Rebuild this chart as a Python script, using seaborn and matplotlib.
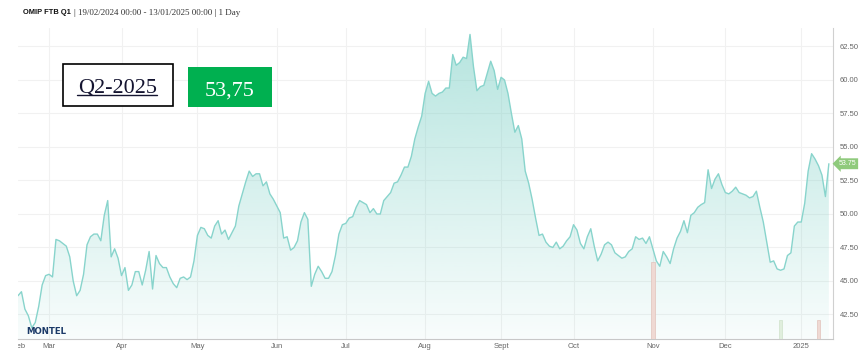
import numpy as np
import pandas as pd
import matplotlib
matplotlib.use('Agg')
import matplotlib.pyplot as plt
import matplotlib.transforms as mtransforms
from matplotlib.patches import Rectangle
from matplotlib.lines import Line2D
import seaborn as sns

# ---- data ----
start_date = '2024-02-19'
end_date = '2025-01-13'

# one settlement per business day, 19/02/2024 .. 13/01/2025
prices = [
    43.9, 44.2, 42.9, 42.4, 41.5, 41.9, 43.1, 44.7, 45.4, 45.5,
    45.3, 48.1, 48.0, 47.8, 47.6, 46.8, 45.0, 43.9, 44.3, 45.5,
    47.7, 48.3, 48.5, 48.5, 48.0, 49.9, 51.0, 46.8, 47.4, 46.7,
    45.4, 46.0, 44.3, 44.7, 45.7, 45.7, 44.7, 45.8, 47.2, 44.4,
    46.9, 46.3, 46.0, 46.0, 45.3, 44.8, 44.5, 45.2, 45.3, 45.1,
    45.3, 46.5, 48.4, 49.0, 48.9, 48.4, 48.2, 49.1, 49.5, 48.5,
    48.8, 48.1, 48.6, 49.1, 50.6, 51.5, 52.4, 53.2, 52.8, 53.0,
    53.0, 52.1, 52.4, 51.5, 51.1, 50.6, 50.1, 48.2, 48.3, 47.3,
    47.5, 48.0, 49.4, 50.1, 49.6, 44.6, 45.5, 46.1, 45.7, 45.2,
    45.2, 45.7, 46.9, 48.5, 49.2, 49.3, 49.7, 49.8, 50.5, 51.0,
    50.85, 50.7, 50.1, 50.4, 50.0, 50.0, 51.0, 51.3, 51.6, 52.3,
    52.4, 52.9, 53.5, 53.5, 54.3, 55.6, 56.5, 57.3, 59.0, 59.9,
    59.0, 58.8, 59.0, 59.1, 59.4, 59.4, 61.9, 61.1, 61.3, 61.7,
    61.6, 63.4, 61.0, 59.2, 59.5, 59.6, 60.5, 61.4, 60.7, 59.3,
    60.2, 60.0, 59.0, 57.5, 56.1, 56.6, 55.6, 53.2, 52.3, 51.1,
    49.7, 48.4, 48.5, 47.9, 47.6, 47.5, 47.9, 47.4, 47.6, 48.0,
    48.3, 49.2, 48.8, 47.8, 47.4, 48.3, 48.9, 47.6, 46.5, 47.0,
    47.7, 47.9, 47.7, 47.1, 46.9, 46.7, 46.8, 47.2, 47.4, 48.3,
    48.1, 48.2, 47.8, 48.3, 47.4, 46.5, 46.1, 47.2, 46.8, 46.3,
    47.4, 48.2, 48.7, 49.5, 48.6, 49.9, 50.1, 50.5, 50.7, 50.85,
    53.3, 51.9, 52.6, 53.0, 52.2, 51.6, 51.5, 51.7, 52.0, 51.6,
    51.5, 51.4, 51.2, 51.3, 51.7, 50.5, 49.4, 47.9, 46.4, 46.5,
    45.9, 45.8, 45.9, 46.9, 47.1, 49.1, 49.4, 49.4, 50.8, 53.2,
    54.5, 54.1, 53.6, 52.9, 51.3, 53.75,
]

month_starts = ['2024-03-01', '2024-04-01', '2024-05-01', '2024-06-01',
                '2024-07-01', '2024-08-01', '2024-09-01', '2024-10-01',
                '2024-11-01', '2024-12-01', '2025-01-01']
month_labels = ['Mar', 'Apr', 'May', 'Jun', 'Jul', 'Aug', 'Sept', 'Oct',
                'Nov', 'Dec', '2025']
y_ticks = [42.5, 45.0, 47.5, 50.0, 52.5, 55.0, 57.5, 60.0, 62.5]

vol_dates = ['2024-11-01', '2024-12-24', '2025-01-08']
vol_values = [20, 5, 5]
vol_side = ['down', 'up', 'down']

title_bold = 'OMIP FTB Q1'
title_rest = '| 19/02/2024 00:00 - 13/01/2025 00:00 | 1 Day'
contract = 'Q2-2025'
last_price_box = '53,75'
last_price = 53.75

# ---- prepare ----
W, H = 860, 357
dates = pd.bdate_range(start_date, end_date)
df = pd.DataFrame({'date': dates, 'price': prices})
d0 = np.datetime64(start_date, 'D')
df['pos'] = np.busday_count(d0, df['date'].values.astype('datetime64[D]'))
tick_pos = np.busday_count(d0, np.array(month_starts, dtype='datetime64[D]'))
vol_pos = np.busday_count(d0, np.array(vol_dates, dtype='datetime64[D]'))

sns.set_style('white')
plt.rcParams['font.family'] = ['Liberation Sans', 'DejaVu Sans']

fig = plt.figure(figsize=(W / 100, H / 100), dpi=100)
ax = fig.add_axes([18 / W, 18 / H, (833 - 18) / W, (339 - 28) / H])

ymin, ymax = 40.67, 63.88
xmin, xmax = 0, 236.2

# volume bars on a hidden twin axis (created first so ax keeps right ticks)
ax2 = ax.twinx()
bar_colors = {'down': '#efd9d3', 'up': '#e0eedd'}
edge_colors = {'down': '#e2c3bb', 'up': '#cfe2cb'}
ax2.bar(vol_pos, vol_values, width=1.1,
        color=[bar_colors[s] for s in vol_side],
        edgecolor=[edge_colors[s] for s in vol_side], lw=0.5, zorder=2)
ax2.set_ylim(0, 20 * 311 / 77)
ax2.set_yticks([])
for s in ax2.spines.values():
    s.set_visible(False)

# gradient area under the line
teal = np.array([127, 209, 199]) / 255
poly = ax.fill_between(df['pos'], df['price'], ymin, color='none', lw=0)
grad = np.zeros((256, 1, 4))
grad[:, 0, :3] = teal
grad[:, 0, 3] = np.linspace(0.05, 0.58, 256)
im = ax.imshow(grad, extent=[xmin, xmax, ymin, ymax], origin='lower',
               aspect='auto', zorder=1, interpolation='bilinear')
im.set_clip_path(poly.get_paths()[0], transform=ax.transData)

sns.lineplot(data=df, x='pos', y='price', ax=ax, color='#88d4cc', lw=1.0,
             zorder=3)

ax.set_xlim(xmin, xmax)
ax2.set_xlim(xmin, xmax)
ax.set_ylim(ymin, ymax)
ax.set_xlabel('')
ax.set_ylabel('')

ax.set_xticks(tick_pos)
ax.set_xticklabels(month_labels)
ax.set_yticks(y_ticks)
ax.set_yticklabels([f'{v:.2f}' for v in y_ticks])
ax.yaxis.tick_right()
ax.tick_params(axis='both', length=0, labelsize=5.5, labelcolor='#666666')
ax.tick_params(axis='x', pad=3)
ax.tick_params(axis='y', pad=5, labelleft=False, labelright=True)
ax.grid(True, color='#f1f1f1', lw=0.8)
ax.set_axisbelow(True)
for s in ['top', 'left']:
    ax.spines[s].set_visible(False)
ax.spines['bottom'].set_color('#c8c8c8')
ax.spines['right'].set_color('#d0d0d0')
ax.spines['bottom'].set_linewidth(0.8)
ax.spines['right'].set_linewidth(0.8)

# clipped "Feb" label at the left edge
feb = ax.text(0.3, -0.0, 'Feb',
              transform=mtransforms.blended_transform_factory(ax.transData, ax.transAxes)
              + mtransforms.ScaledTranslation(0, -3 / 72, fig.dpi_scale_trans),
              ha='center', va='top', fontsize=5.5, color='#666666')
feb.set_clip_box(mtransforms.Bbox.from_extents(18, 0, W, H))
feb.set_clip_on(True)

# last price tag on the right axis
tag_tr = mtransforms.blended_transform_factory(ax.transAxes, ax.transData) + \
    mtransforms.ScaledTranslation(4 / 72, 0, fig.dpi_scale_trans)
ax.text(1.0, last_price, f'{last_price:.2f}', transform=tag_tr, ha='left',
        va='center', fontsize=5, color='white', clip_on=False, zorder=6,
        bbox=dict(boxstyle='larrow,pad=0.28', fc='#8fca7c', ec='none'))

# title
fig.text(23 / W, 1 - 13 / H, title_bold, fontsize=5.4, fontweight='bold',
         color='#111111', va='center', ha='left', family='Liberation Sans')
fig.text(74 / W, 1 - 13 / H, title_rest, fontsize=6.45, color='#333333',
         va='center', ha='left', family='Liberation Serif')

# contract / price boxes
fig.patches.append(Rectangle((63 / W, 1 - 106 / H), 110 / W, 42 / H,
                             transform=fig.transFigure, fc='white', ec='black',
                             lw=1.2, zorder=5))
fig.patches.append(Rectangle((188 / W, 1 - 107 / H), 84 / W, 40 / H,
                             transform=fig.transFigure, fc='#00b050', ec='none',
                             zorder=5))
fig.text(117.5 / W, 1 - 92.5 / H, contract, fontsize=16, color='#141430',
         ha='center', va='baseline', family='Liberation Serif', zorder=6)
fig.add_artist(Line2D([77 / W, 157 / W], [1 - 95 / H, 1 - 95 / H],
                      transform=fig.transFigure, color='#141430', lw=1.0,
                      zorder=6))
fig.text(230 / W, 1 - 95.5 / H, last_price_box, fontsize=16, color='white',
         ha='center', va='baseline', family='Liberation Serif', zorder=6)

# logo
fig.text(26 / W, 1 - 331 / H, 'MONTEL', fontsize=6.2, fontweight='bold',
         color='#1b3a68', ha='left', va='center', family='DejaVu Sans')

fig.savefig('out.png', dpi=100)
